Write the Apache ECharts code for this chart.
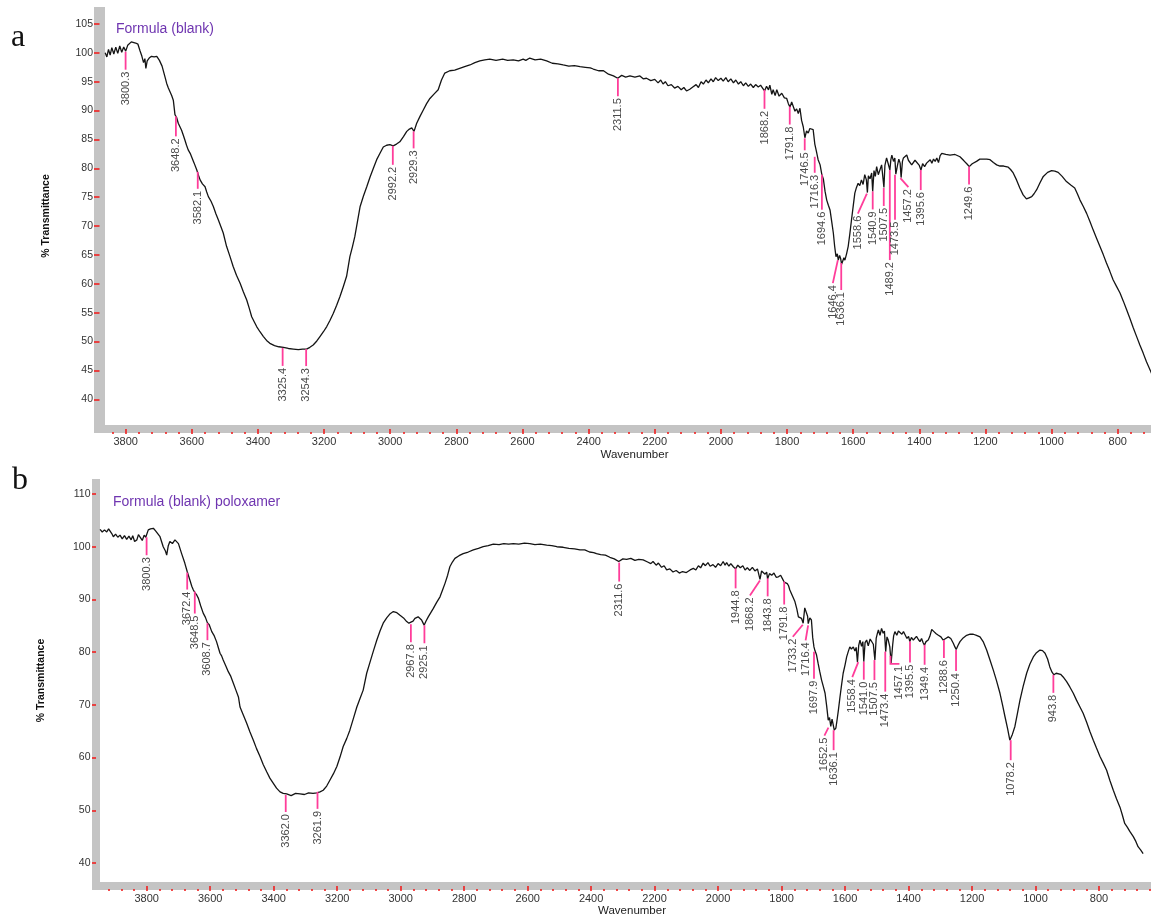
<!DOCTYPE html>
<html>
<head>
<meta charset="utf-8">
<title>FTIR spectra</title>
<script src="https://cdn.jsdelivr.net/npm/echarts@6/dist/echarts.min.js"></script>
<style>
  html, body { margin: 0; padding: 0; background: #fff; }
  #chart { width: 1151px; height: 917px; }
</style>
</head>
<body>
<div id="chart"></div>
<script>
// ---------------------------------------------------------------
// Spectrum values: [wavenumber (cm-1), % transmittance]
// ---------------------------------------------------------------
const titleA = 'Formula (blank)';
const titleB = 'Formula (blank) poloxamer';

const spectrumA = [
  [3862,100.0],[3857,99.3],[3852,100.6],[3847,99.6],[3842,100.9],[3836,99.8],[3830,101.0],[3824,99.9],
  [3818,101.2],[3812,100.1],[3806,101.0],[3800,100.3],[3794,101.3],[3788,101.6],[3783,101.9],[3777,101.6],
  [3770,101.7],[3763,101.5],[3757,100.4],[3751,99.4],[3746,98.3],[3742,99.0],[3739,97.3],[3735,98.6],
  [3729,99.1],[3722,99.4],[3714,99.3],[3706,99.4],[3698,98.7],[3690,97.7],[3686,97.6],[3681,95.8],
  [3676,94.7],[3671,93.9],[3666,93.6],[3661,92.6],[3656,91.8],[3651,89.3],[3646,88.8],[3641,87.8],
  [3636,87.2],[3631,86.6],[3625,85.6],[3621,84.9],[3616,84.0],[3611,83.2],[3605,82.6],[3600,82.3],
  [3593,80.9],[3585,79.7],[3580,78.8],[3575,78.0],[3568,77.3],[3560,76.8],[3555,75.9],[3550,75.1],
  [3542,74.3],[3535,73.4],[3527,72.1],[3520,71.1],[3512,69.9],[3505,68.8],[3495,66.5],[3485,64.8],
  [3475,63.0],[3465,61.5],[3454,60.1],[3444,58.6],[3434,57.2],[3426,55.7],[3419,54.3],[3411,53.4],
  [3404,52.6],[3394,51.7],[3384,50.9],[3374,50.2],[3364,49.7],[3350,49.3],[3337,49.1],[3323,49.0],
  [3308,48.8],[3293,48.7],[3278,48.6],[3265,48.7],[3253,48.7],[3243,49.0],[3233,49.4],[3222,50.1],
  [3212,50.9],[3202,51.7],[3192,52.6],[3182,53.7],[3172,54.9],[3162,56.3],[3152,57.8],[3142,59.5],
  [3132,61.3],[3122,64.7],[3114,66.5],[3107,68.2],[3099,70.8],[3091,73.4],[3081,75.2],[3071,76.8],
  [3061,78.5],[3051,80.0],[3041,81.5],[3031,82.6],[3021,83.7],[3011,84.0],[3001,84.1],[2991,83.9],
  [2981,84.2],[2971,84.6],[2960,85.5],[2950,86.4],[2942,86.8],[2935,87.0],[2928,86.4],[2920,87.8],
  [2910,89.0],[2900,90.1],[2890,91.2],[2880,92.1],[2867,92.9],[2855,93.6],[2845,95.3],[2835,96.5],
  [2820,96.9],[2805,97.0],[2790,97.3],[2775,97.6],[2759,97.9],[2744,98.3],[2729,98.6],[2714,98.8],
  [2699,98.9],[2680,98.7],[2660,98.9],[2645,98.7],[2628,98.8],[2612,98.6],[2598,98.9],[2590,98.7],
  [2578,99.1],[2562,98.8],[2545,98.9],[2527,98.6],[2510,98.2],[2493,98.1],[2477,97.9],[2460,97.7],
  [2443,97.8],[2426,97.6],[2410,97.5],[2395,97.4],[2386,97.2],[2370,96.9],[2355,96.9],[2340,96.3],
  [2325,96.0],[2312,95.6],[2300,96.1],[2288,95.8],[2275,96.0],[2260,95.8],[2245,96.0],[2235,95.5],
  [2225,95.6],[2212,95.2],[2200,95.4],[2190,94.8],[2182,95.3],[2175,94.6],[2168,95.0],[2160,94.3],
  [2150,94.5],[2140,93.9],[2130,94.2],[2120,93.6],[2112,94.0],[2104,93.4],[2094,93.7],[2085,94.1],
  [2075,94.5],[2068,94.0],[2060,95.0],[2053,94.6],[2045,95.3],[2038,94.8],[2030,95.5],[2023,95.0],
  [2016,95.7],[2008,95.2],[2000,95.6],[1993,95.1],[1985,95.7],[1978,95.0],[1970,95.5],[1962,94.8],
  [1955,95.3],[1947,94.6],[1940,95.0],[1932,94.3],[1925,94.8],[1917,94.2],[1910,94.6],[1902,94.0],
  [1895,94.5],[1887,94.1],[1880,94.4],[1874,93.9],[1868,93.4],[1862,94.2],[1856,93.6],[1852,94.4],
  [1846,92.8],[1842,93.6],[1836,92.6],[1831,93.6],[1824,92.5],[1816,93.0],[1808,92.2],[1801,92.1],
  [1796,91.2],[1791,90.6],[1786,91.5],[1781,91.3],[1776,89.9],[1771,90.3],[1766,89.5],[1761,90.4],
  [1756,88.3],[1751,87.2],[1746,85.3],[1741,86.5],[1736,86.1],[1731,86.9],[1726,87.0],[1721,86.7],
  [1716,84.2],[1711,82.9],[1706,81.5],[1700,80.6],[1695,79.0],[1690,78.1],[1685,76.0],[1680,74.5],
  [1675,73.6],[1670,72.8],[1665,70.8],[1660,68.8],[1656,66.5],[1652,64.7],[1648,65.2],[1645,64.1],
  [1641,64.9],[1638,64.4],[1635,63.4],[1632,63.6],[1628,64.5],[1625,64.1],[1620,65.2],[1615,66.5],
  [1610,68.7],[1605,71.1],[1600,73.4],[1595,75.7],[1590,76.7],[1585,77.4],[1580,77.0],[1575,78.0],
  [1570,77.2],[1565,78.9],[1560,78.0],[1557,75.8],[1554,78.7],[1549,78.2],[1544,79.2],[1541,76.0],
  [1537,79.6],[1533,78.6],[1529,80.3],[1524,78.9],[1519,79.2],[1514,80.6],[1509,80.9],[1507,76.7],
  [1504,80.5],[1499,81.8],[1494,80.8],[1489,79.7],[1486,81.5],[1483,82.3],[1478,81.2],[1474,81.8],
  [1471,79.0],[1466,80.5],[1462,81.6],[1458,80.9],[1455,78.4],[1451,81.2],[1448,81.8],[1443,82.0],
  [1438,82.3],[1433,81.4],[1428,81.5],[1423,80.6],[1418,80.3],[1413,81.4],[1408,81.2],[1400,80.5],
  [1395,79.7],[1390,80.8],[1384,80.3],[1378,80.9],[1372,80.6],[1367,81.5],[1362,80.9],[1357,81.6],
  [1352,81.2],[1347,81.8],[1342,81.0],[1337,82.2],[1332,82.6],[1320,82.4],[1307,82.3],[1292,82.4],
  [1277,82.0],[1265,81.3],[1255,80.7],[1249,80.3],[1240,80.8],[1227,81.2],[1217,81.6],[1207,81.6],
  [1196,81.6],[1186,81.5],[1176,81.0],[1166,80.6],[1156,80.4],[1145,80.4],[1131,80.2],[1124,79.8],
  [1116,79.2],[1106,78.0],[1096,76.6],[1086,75.4],[1076,74.7],[1068,74.9],[1060,75.1],[1053,75.6],
  [1045,76.3],[1035,77.5],[1025,78.6],[1012,79.3],[1000,79.6],[990,79.5],[980,79.3],[968,78.6],
  [955,77.7],[942,77.1],[930,76.6],[922,75.6],[914,74.5],[904,73.4],[894,72.2],[884,70.8],
  [874,69.3],[864,67.9],[854,66.5],[844,65.1],[834,63.6],[824,62.2],[814,60.7],[804,59.6],
  [793,58.4],[783,57.0],[773,55.5],[763,54.0],[753,52.4],[743,50.9],[733,49.4],[723,48.0],
  [713,46.5],[700,44.8],[690,43.5]
];

const spectrumB = [
  [3947,103.3],[3940,102.8],[3933,103.2],[3926,102.8],[3920,103.4],[3915,103.3],[3910,102.5],[3905,101.9],
  [3898,102.4],[3891,101.8],[3884,102.2],[3877,101.5],[3870,102.1],[3863,101.4],[3856,102.0],[3849,101.3],
  [3844,102.1],[3838,101.0],[3831,101.3],[3826,102.3],[3821,102.0],[3814,101.2],[3808,102.2],[3803,101.8],
  [3795,103.2],[3788,103.4],[3779,103.5],[3772,103.0],[3768,103.0],[3758,101.9],[3748,100.0],[3741,99.2],
  [3737,98.4],[3732,100.2],[3727,101.0],[3719,100.6],[3711,101.3],[3705,101.0],[3700,100.6],[3690,98.7],
  [3680,96.9],[3672,95.2],[3664,93.7],[3658,92.5],[3653,91.8],[3648,91.3],[3642,90.8],[3637,90.2],
  [3630,88.8],[3622,87.4],[3615,86.6],[3609,85.6],[3603,85.2],[3595,83.9],[3588,83.2],[3580,82.0],
  [3574,80.8],[3569,79.8],[3564,79.3],[3559,78.5],[3550,77.3],[3543,76.3],[3535,75.4],[3527,74.1],
  [3519,72.8],[3511,71.5],[3506,69.6],[3495,68.0],[3485,66.5],[3475,64.9],[3464,63.3],[3454,61.7],
  [3443,60.2],[3433,58.7],[3422,57.3],[3412,56.1],[3401,55.1],[3391,54.2],[3380,53.5],[3370,53.2],
  [3359,53.1],[3345,52.8],[3331,53.2],[3317,53.1],[3303,53.0],[3290,53.3],[3276,53.2],[3264,53.3],
  [3254,53.5],[3244,53.8],[3233,54.6],[3223,55.7],[3212,56.9],[3201,58.3],[3191,60.1],[3181,62.1],
  [3170,63.6],[3160,65.2],[3149,67.4],[3138,69.6],[3128,71.2],[3118,72.8],[3107,76.0],[3096,78.2],
  [3086,80.2],[3075,82.3],[3065,84.0],[3055,85.5],[3044,86.5],[3033,87.3],[3023,87.7],[3012,87.5],
  [3002,87.0],[2991,86.5],[2981,85.8],[2974,85.5],[2968,85.3],[2961,85.9],[2955,86.4],[2945,86.7],
  [2939,86.5],[2934,86.1],[2930,85.6],[2926,85.1],[2920,85.9],[2913,86.7],[2905,87.5],[2897,88.3],
  [2887,89.4],[2876,90.5],[2868,91.8],[2860,93.1],[2852,94.6],[2845,96.2],[2837,97.1],[2829,97.8],
  [2816,98.3],[2803,98.7],[2787,99.0],[2771,99.4],[2755,99.7],[2740,100.0],[2724,100.2],[2708,100.5],
  [2690,100.4],[2675,100.6],[2660,100.5],[2645,100.6],[2628,100.5],[2610,100.7],[2593,100.6],[2577,100.4],
  [2560,100.5],[2540,100.3],[2524,100.2],[2508,100.0],[2488,99.9],[2470,99.7],[2452,99.6],[2435,99.4],
  [2420,99.4],[2405,99.0],[2392,98.9],[2383,98.7],[2370,98.5],[2355,98.4],[2341,98.0],[2327,97.7],
  [2313,97.2],[2300,97.7],[2288,97.6],[2275,97.8],[2262,97.4],[2250,97.6],[2236,97.5],[2222,97.1],
  [2212,96.8],[2205,97.2],[2195,96.5],[2188,96.9],[2178,96.1],[2170,96.4],[2162,95.6],[2152,95.8],
  [2142,95.2],[2132,95.5],[2122,95.0],[2112,95.3],[2100,95.1],[2088,95.6],[2078,95.9],[2070,95.6],
  [2062,96.4],[2055,96.0],[2047,96.9],[2040,96.4],[2032,97.0],[2025,96.3],[2016,96.6],[2008,96.1],
  [2000,96.8],[1992,96.4],[1984,97.2],[1978,96.5],[1973,97.0],[1966,96.3],[1960,96.8],[1952,96.2],
  [1945,95.8],[1938,96.5],[1930,96.0],[1922,96.4],[1915,95.6],[1908,96.0],[1900,95.5],[1892,96.1],
  [1884,95.4],[1876,95.8],[1868,93.8],[1863,95.4],[1858,95.6],[1852,94.8],[1847,95.2],[1844,93.9],
  [1838,94.9],[1831,94.6],[1824,95.0],[1817,94.2],[1810,94.3],[1803,94.6],[1797,93.9],[1792,93.3],
  [1786,93.6],[1782,93.0],[1778,92.6],[1774,91.8],[1766,90.7],[1758,89.6],[1752,88.2],[1747,86.7],
  [1742,86.9],[1737,86.4],[1732,85.5],[1727,88.4],[1722,88.6],[1718,86.8],[1716,85.4],[1711,86.5],
  [1706,86.1],[1702,82.8],[1698,81.0],[1695,80.3],[1690,79.5],[1685,77.9],[1680,76.4],[1674,74.7],
  [1669,73.6],[1663,72.2],[1658,69.8],[1653,67.1],[1649,67.6],[1645,65.9],[1641,67.3],[1637,67.1],
  [1634,65.2],[1632,64.9],[1629,65.6],[1626,66.8],[1621,69.0],[1616,71.5],[1611,73.8],[1606,76.0],
  [1600,77.6],[1595,79.1],[1590,80.1],[1585,81.0],[1580,80.6],[1574,81.0],[1569,80.2],[1565,80.9],
  [1561,78.1],[1557,81.3],[1553,82.3],[1548,81.1],[1544,82.0],[1541,78.2],[1537,81.8],[1532,82.3],
  [1527,81.2],[1521,82.5],[1516,82.3],[1511,81.5],[1506,78.5],[1502,82.6],[1498,83.6],[1495,84.2],
  [1490,83.2],[1485,84.5],[1480,83.6],[1476,84.0],[1472,80.1],[1468,82.9],[1464,82.3],[1459,81.0],
  [1455,77.9],[1450,81.4],[1447,83.1],[1443,83.9],[1437,83.2],[1432,84.0],[1427,84.2],[1421,83.4],
  [1416,83.9],[1411,83.3],[1405,82.6],[1400,83.0],[1396,82.0],[1391,82.8],[1385,82.3],[1380,82.3],
  [1375,83.0],[1369,82.4],[1364,82.0],[1359,82.6],[1354,81.8],[1350,81.3],[1345,82.0],[1338,82.3],
  [1333,83.0],[1327,84.3],[1320,83.9],[1313,83.5],[1306,83.2],[1298,82.9],[1291,82.3],[1283,82.6],
  [1275,82.9],[1267,82.6],[1259,81.7],[1254,81.0],[1250,80.5],[1244,81.3],[1238,82.0],[1228,82.7],
  [1217,83.2],[1206,83.4],[1196,83.4],[1186,83.2],[1175,82.9],[1165,82.0],[1154,80.4],[1144,78.6],
  [1133,76.6],[1123,74.6],[1112,72.2],[1104,70.0],[1096,67.7],[1088,65.5],[1081,63.3],[1073,64.4],
  [1065,65.9],[1057,68.4],[1049,70.9],[1039,73.5],[1028,76.0],[1018,77.7],[1007,79.1],[997,79.9],
  [986,80.4],[978,80.3],[970,79.8],[962,78.7],[955,77.2],[948,76.2],[942,75.7],[935,76.0],
  [929,76.1],[921,75.8],[913,75.3],[902,74.4],[892,73.4],[881,72.2],[871,70.9],[860,69.6],
  [850,68.4],[839,66.7],[829,65.0],[818,63.3],[808,61.8],[797,60.2],[787,59.0],[776,57.6],
  [766,55.7],[755,53.8],[745,52.2],[734,50.6],[727,49.2],[719,47.5],[711,46.8],[703,46.0],
  [692,45.0],[684,44.1],[677,43.1],[669,42.5],[661,41.8]
];

// Labelled peaks: [wavenumber, % transmittance where the marker starts]
const peaksA = [
  [3800.3,100.2],[3648.2,89.0],[3582.1,79.4],[3325.4,48.9],[3254.3,48.7],[2992.2,83.9],[2929.3,86.4],
  [2311.5,95.6],[1868.2,93.6],[1791.8,90.7],[1746.5,85.2],[1716.3,82.0],[1694.6,78.9],[1646.4,64.1],
  [1636.1,63.6],[1558.6,75.6],[1540.9,76.0],[1507.5,76.6],[1489.2,79.7],[1473.5,78.9],[1457.2,78.3],
  [1395.6,79.7],[1249.6,80.3]
];
const peaksB = [
  [3800.3,101.8],[3672.4,95.1],[3648.5,91.5],[3608.7,85.5],[3362.0,52.9],[3261.9,53.5],[2967.8,85.3],
  [2925.1,85.1],[2311.6,97.0],[1944.8,95.9],[1868.2,93.6],[1843.8,94.0],[1791.8,93.4],[1733.2,85.2],
  [1716.4,85.1],[1697.9,80.1],[1652.5,65.7],[1636.1,65.2],[1558.4,78.1],[1541.0,78.2],[1507.5,78.5],
  [1473.4,80.1],[1457.1,79.3],[1395.5,82.0],[1349.4,81.4],[1288.6,82.3],[1250.4,80.4],[1078.2,63.3],
  [943.8,75.7]
];

// Axis tick values
const xTickValues = [3800,3600,3400,3200,3000,2800,2600,2400,2200,2000,1800,1600,1400,1200,1000,800];
const yTickValuesA = [40,45,50,55,60,65,70,75,80,85,90,95,100,105];
const yTickValuesB = [40,50,60,70,80,90,100,110];

// ---------------------------------------------------------------
// Styling / layout
// ---------------------------------------------------------------
const PINK = '#ff3d9a';
const RED_TICK = '#f02020';
const BAND = '#c4c4c4';
const SANS = '"Liberation Sans", Arial, sans-serif';
const SERIF = '"Liberation Serif", "Times New Roman", serif';

// minor ticks every 40 cm-1 between the labelled ones
const minorTicks = [];
for (let v = 3920; v >= 560; v -= 40) if (v % 200 !== 0) minorTicks.push(v);

// leader shapes for crowded peak labels: [down, sideways, slanted-down] in px
const leadersA = {
  '3648.2':[20], '3582.1':[17], '3254.3':[17], '2992.2':[19], '2929.3':[17], '1868.2':[19],
  '1746.5':[12], '1716.3':[16], '1694.6':[35], '1646.4':[0,-5,23], '1636.1':[27],
  '1558.6':[0,-9,20], '1489.2':[90], '1473.5':[45], '1457.2':[0,8,9], '1395.6':[20]
};
const leadersB = {
  '3672.4':[17], '3648.5':[22], '3608.7':[17], '3362.0':[17], '3261.9':[17], '2311.6':[19],
  '1944.8':[20], '1868.2':[0,-10,15], '1791.8':[23], '1733.2':[0,-10,12], '1716.4':[0,-2.5,15],
  '1697.9':[27], '1652.5':[0,-4,8], '1636.1':[20], '1558.4':[0,-6,15], '1507.5':[20],
  '1473.4':[40], '1457.1':[8,9,0], '1395.5':[21], '1349.4':[20], '1250.4':[21], '1078.2':[20]
};

// plot frames run a little past the right edge of the page
const panels = [
  { grid: { left: 105, top: 7, width: 1059, height: 418 }, x: [660, 3862.6], y: [35.55, 107.94],
    bandY: 11, bandX: 8, yTicks: yTickValuesA, yGap: 48, xNameGap: 20, yLabelMargin: 6.5 },
  { grid: { left: 100, top: 479, width: 1064, height: 403 }, x: [595.3, 3947.1], y: [36.4, 112.85],
    bandY: 8, bandX: 8, yTicks: yTickValuesB, yGap: 49, xNameGap: 18, yLabelMargin: 5.5 }
];

const chart = echarts.init(document.getElementById('chart'), null, { renderer: 'canvas' });
const plain = v => String(v);

const grids = [], xAxes = [], yAxes = [], graphics = [];
panels.forEach((p, i) => {
  grids.push(Object.assign({ containLabel: false, outerBoundsMode: 'none' }, p.grid));
  // main wavenumber axis (gray band, major ticks, labels)
  xAxes.push({
    type: 'value', gridIndex: i, inverse: true, min: p.x[0], max: p.x[1], position: 'bottom',
    offset: p.bandX / 2,
    name: 'Wavenumber', nameLocation: 'middle', nameGap: p.xNameGap,
    nameTextStyle: { fontFamily: SANS, fontSize: 11.5, color: '#222' },
    axisLine: { show: true, onZero: false, lineStyle: { color: BAND, width: p.bandX, cap: 'butt' } },
    axisTick: { show: true, customValues: xTickValues, length: 5, lineStyle: { color: RED_TICK, width: 1.6 } },
    axisLabel: { show: true, customValues: xTickValues, formatter: plain, margin: 7,
                 fontFamily: SANS, fontSize: 11, color: '#333' },
    splitLine: { show: false }
  });
  // minor tick dots
  xAxes.push({
    type: 'value', gridIndex: i, inverse: true, min: p.x[0], max: p.x[1], position: 'bottom',
    offset: p.bandX / 2 + 3,
    axisLine: { show: false, onZero: false },
    axisTick: { show: true, customValues: minorTicks, length: 2, lineStyle: { color: RED_TICK, width: 1.6 } },
    axisLabel: { show: false }, splitLine: { show: false }
  });
  yAxes.push({
    type: 'value', gridIndex: i, min: p.y[0], max: p.y[1], position: 'left',
    offset: p.bandY / 2,
    name: '% Transmittance', nameLocation: 'middle', nameGap: p.yGap,
    nameTextStyle: { fontFamily: SANS, fontSize: 10.5, fontWeight: 'bold', color: '#111' },
    axisLine: { show: true, onZero: false, lineStyle: { color: BAND, width: p.bandY, cap: 'butt' } },
    axisTick: { show: true, customValues: p.yTicks, length: p.bandY / 2, lineStyle: { color: RED_TICK, width: 1.6 } },
    axisLabel: { show: true, customValues: p.yTicks, formatter: plain, margin: p.yLabelMargin,
                 fontFamily: SANS, fontSize: 10.5, color: '#333' },
    splitLine: { show: false }
  });
  // corner where the two gray bands meet
  const bottomY = p.grid.top + p.grid.height;
  graphics.push({
    type: 'rect', z: 10, silent: true,
    shape: { x: p.grid.left - p.bandY, y: bottomY, width: p.bandY, height: p.bandX },
    style: { fill: BAND }
  });
});

function spectrumSeries(data, xi, yi) {
  return {
    type: 'line', xAxisIndex: xi, yAxisIndex: yi, data: data, symbol: 'none', silent: true,
    lineStyle: { color: '#141414', width: 1.3 }, z: 3
  };
}

function peakSeries(peaks, leaders, xi, yi) {
  return {
    type: 'custom', xAxisIndex: xi, yAxisIndex: yi, data: peaks, silent: true, clip: false, z: 5,
    renderItem: function (params, api) {
      const w = api.value(0), t = api.value(1);
      const p = api.coord([w, t]);
      const key = w.toFixed(1);
      const [down, side, slant] = Object.assign([18, 0, 0], leaders[key] || []);
      const x1 = p[0], y1 = p[1] + down;
      const x2 = x1 + side, y2 = y1 + slant;
      return {
        type: 'group',
        children: [
          { type: 'polyline', shape: { points: [[p[0], p[1]], [x1, y1], [x2, y2]] },
            style: { stroke: PINK, lineWidth: 1.8, fill: 'none' } },
          { type: 'text', x: x2, y: y2 + 2, rotation: Math.PI / 2,
            style: { text: key, align: 'right', verticalAlign: 'middle', fill: '#4a4a4a',
                     font: '11px ' + SANS } }
        ]
      };
    }
  };
}

chart.setOption({
  animation: false,
  backgroundColor: '#fff',
  title: [
    { text: 'a', left: 11, top: 22, padding: 0,
      textStyle: { fontFamily: SERIF, fontSize: 32, fontWeight: 'normal', color: '#111' } },
    { text: 'b', left: 12, top: 465, padding: 0,
      textStyle: { fontFamily: SERIF, fontSize: 32, fontWeight: 'normal', color: '#111' } },
    { text: titleA, left: 116, top: 22, padding: 0,
      textStyle: { fontFamily: SANS, fontSize: 14, fontWeight: 'normal', color: '#6f35b0' } },
    { text: titleB, left: 113, top: 495, padding: 0,
      textStyle: { fontFamily: SANS, fontSize: 14, fontWeight: 'normal', color: '#6f35b0' } }
  ],
  grid: grids,
  xAxis: xAxes,
  yAxis: yAxes,
  graphic: graphics,
  series: [
    spectrumSeries(spectrumA, 0, 0),
    peakSeries(peaksA, leadersA, 0, 0),
    spectrumSeries(spectrumB, 2, 1),
    peakSeries(peaksB, leadersB, 2, 1)
  ]
});
</script>
</body>
</html>
